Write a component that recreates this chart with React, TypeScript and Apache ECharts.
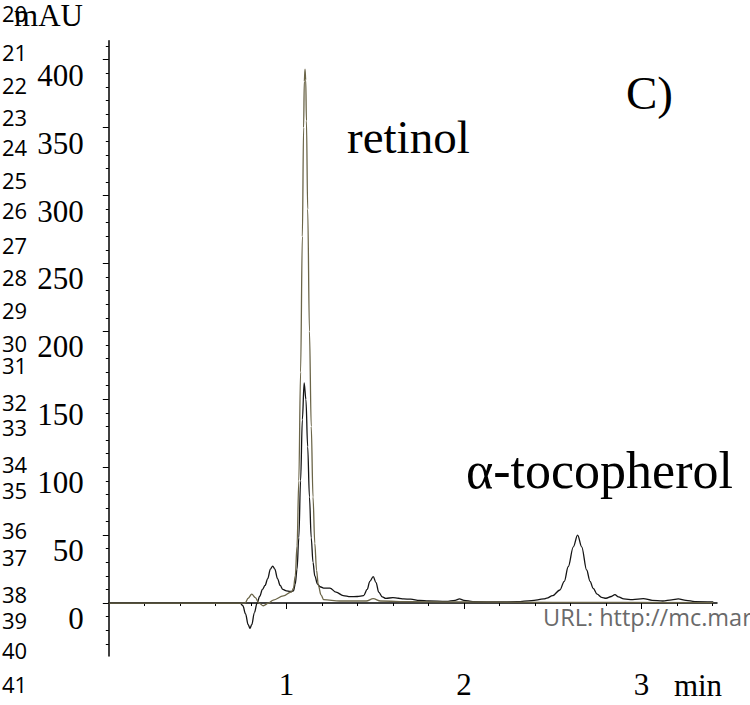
import { useEffect, useRef } from "react";
import * as echarts from "echarts";

// Chromatogram traces: [time (min), absorbance (mAU)]
const sampleTrace: [number, number][] = [
  [0, 0], [0.3, 0], [0.6, 0], [0.74, 0], [0.755, -2], [0.77, -8], [0.785, -16], [0.795, -18.6],
  [0.805, -16], [0.82, -7], [0.835, 0], [0.85, 5], [0.865, 10], [0.88, 13], [0.895, 18],
  [0.91, 25], [0.923, 27.2], [0.935, 25], [0.95, 18], [0.965, 13], [0.98, 10], [1.0, 9],
  [1.02, 8.5], [1.03, 8.5], [1.04, 9], [1.05, 14], [1.06, 25], [1.07, 48], [1.08, 90],
  [1.09, 135], [1.1, 162], [1.11, 150], [1.12, 115], [1.13, 78], [1.14, 48], [1.15, 30],
  [1.16, 20], [1.175, 14], [1.19, 12], [1.21, 11], [1.245, 11], [1.28, 8], [1.32, 5.5],
  [1.36, 4.7], [1.4, 4.8], [1.435, 5.5], [1.455, 10], [1.47, 16], [1.489, 19.4], [1.505, 15],
  [1.52, 8], [1.54, 4.5], [1.56, 3.4], [1.6, 4], [1.63, 3.5], [1.66, 3], [1.7, 2.8],
  [1.75, 2], [1.8, 1.5], [1.9, 1.2], [1.95, 2], [1.975, 3], [2.0, 2], [2.05, 1], [2.2, 0.8],
  [2.3, 1], [2.38, 1.8], [2.45, 3], [2.466, 3.6], [2.5, 5.5], [2.54, 9.6], [2.565, 16],
  [2.587, 26.7], [2.616, 41.4], [2.64, 50], [2.663, 41.4], [2.691, 24.3], [2.71, 16],
  [2.728, 10.8], [2.75, 6.5], [2.775, 4.2], [2.8, 3.5], [2.83, 4.8], [2.85, 6.2], [2.87, 4.5],
  [2.9, 3], [2.95, 2.5], [3.01, 3.2], [3.06, 2], [3.12, 1.5], [3.17, 2.3], [3.207, 3],
  [3.25, 2], [3.3, 1], [3.404, 0.8],
];

const standardTrace: [number, number][] = [
  [0, 0], [0.3, 0], [0.6, 0], [0.767, 0], [0.785, 3.5], [0.805, 6.6], [0.825, 4], [0.845, 0],
  [0.87, -2], [0.9, 0], [0.926, 2.2], [0.983, 5.2], [1.03, 8.3], [1.04, 11], [1.05, 20],
  [1.06, 42], [1.07, 90], [1.08, 170], [1.09, 270], [1.097, 350], [1.101, 384], [1.105, 393],
  [1.109, 385], [1.113, 355], [1.12, 290], [1.13, 200], [1.14, 130], [1.15, 78], [1.16, 44],
  [1.17, 24], [1.18, 13], [1.195, 6], [1.21, 2.5], [1.3, 1.5], [1.45, 1.5], [1.489, 3.2],
  [1.53, 1.5], [1.7, 1], [2.0, 0.8], [2.5, 0.5], [3.404, 0.3],
];

const xMajorTicks = [1, 2, 3];
const xMinorTicks = [0.2, 0.4, 0.6, 0.8, 1.2, 1.4, 1.6, 1.8, 2.2, 2.4, 2.6, 2.8, 3.2, 3.4];
const yMajorTicks = [0, 50, 100, 150, 200, 250, 300, 350, 400];
const yMinorTicks = [
  -30, -20, -10, 10, 20, 30, 40, 60, 70, 80, 90, 110, 120, 130, 140, 160, 170, 180, 190,
  210, 220, 230, 240, 260, 270, 280, 290, 310, 320, 330, 340, 360, 370, 380, 390, 410,
];

const lineNumbers = [
  "20", "21", "22", "23", "24", "25", "26", "27", "28", "29", "30",
  "31", "32", "33", "34", "35", "36", "37", "38", "39", "40", "41",
];
const lineNumberY = [
  13, 52, 85, 117, 147, 180, 210, 245, 277, 310, 343,
  365, 402, 427, 464, 490, 530, 557, 594, 620, 650, 684,
];

const SERIF = "'Liberation Serif', 'Times New Roman', serif";
const SANS = "'Open Sans', 'DejaVu Sans', sans-serif";

export default function App() {
  const ref = useRef<HTMLDivElement>(null);

  useEffect(() => {
    if (!ref.current) return;
    const chart = echarts.init(ref.current, undefined, { renderer: "svg" });

    const texts: any[] = lineNumbers.map((t, i) => ({
      type: "text",
      x: 2,
      y: lineNumberY[i],
      style: {
        text: t,
        font: `22px ${SANS}`,
        fill: "#000",
        textAlign: "left",
        textVerticalAlign: "middle",
      },
    }));

    texts.push(
      {
        type: "text",
        x: 83,
        y: 15,
        style: { text: "mAU", font: `31px ${SERIF}`, fill: "#000", textAlign: "right", textVerticalAlign: "middle" },
      },
      {
        type: "text",
        x: 698,
        y: 685,
        style: { text: "min", font: `31px ${SERIF}`, fill: "#000", textAlign: "center", textVerticalAlign: "middle" },
      },
      {
        type: "text",
        x: 347,
        y: 137,
        style: { text: "retinol", font: `47px ${SERIF}`, fill: "#000", textAlign: "left", textVerticalAlign: "middle" },
      },
      {
        type: "text",
        x: 626,
        y: 93,
        style: { text: "C)", font: `47px ${SERIF}`, fill: "#000", textAlign: "left", textVerticalAlign: "middle" },
      },
      {
        type: "text",
        x: 466,
        y: 470,
        style: { text: "α-tocopherol", font: `52px ${SERIF}`, fill: "#000", textAlign: "left", textVerticalAlign: "middle" },
      },
      {
        type: "text",
        x: 543,
        y: 617,
        style: { text: "URL: http://mc.mar", font: `23.5px ${SANS}`, fill: "#6a6a6a", textAlign: "left", textVerticalAlign: "middle" },
      }
    );

    const option: any = {
      animation: false,
      backgroundColor: "#fff",
      grid: { left: 108.8, right: 33, top: 40.7, bottom: 49, containLabel: false },
      xAxis: [
        {
          type: "value",
          min: 0,
          max: 3.425,
          position: "bottom",
          axisLine: { show: true, lineStyle: { color: "#000", width: 1.5 } },
          axisTick: { show: true, customValues: xMinorTicks, length: 3, lineStyle: { color: "#000", width: 1 } },
          axisLabel: { show: false },
          splitLine: { show: false },
        },
        {
          type: "value",
          min: 0,
          max: 3.425,
          position: "bottom",
          axisLine: { show: false },
          axisTick: { show: true, customValues: xMajorTicks, length: 6, lineStyle: { color: "#000", width: 1 } },
          axisLabel: {
            show: true,
            customValues: xMajorTicks,
            margin: 13,
            color: "#000",
            fontFamily: SERIF,
            fontSize: 31,
            verticalAlign: "top",
          },
          splitLine: { show: false },
        },
      ],
      yAxis: [
        {
          type: "value",
          min: -39,
          max: 414,
          position: "left",
          axisLine: { show: true, lineStyle: { color: "#000", width: 1.5 } },
          axisTick: { show: true, customValues: yMinorTicks, length: 3, lineStyle: { color: "#000", width: 1 } },
          axisLabel: { show: false },
          splitLine: { show: false },
        },
        {
          type: "value",
          min: -39,
          max: 414,
          position: "left",
          axisLine: { show: false },
          axisTick: { show: true, customValues: yMajorTicks, length: 6, lineStyle: { color: "#000", width: 1 } },
          axisLabel: {
            show: true,
            customValues: yMajorTicks,
            margin: 25,
            color: "#000",
            fontFamily: SERIF,
            fontSize: 31,
            verticalAlign: "top",
            align: "right",
          },
          splitLine: { show: false },
        },
      ],
      series: [
        {
          type: "line",
          name: "sample",
          data: sampleTrace,
          xAxisIndex: 0,
          yAxisIndex: 0,
          showSymbol: false,
          smooth: 0.35,
          smoothMonotone: "x",
          lineStyle: { color: "#141414", width: 1.3 },
          z: 2,
        },
        {
          type: "line",
          name: "standard",
          data: standardTrace,
          xAxisIndex: 0,
          yAxisIndex: 0,
          showSymbol: false,
          smooth: 0.35,
          smoothMonotone: "x",
          lineStyle: { color: "#6b6548", width: 1.3 },
          z: 3,
        },
      ],
      graphic: texts,
    };

    chart.setOption(option);
    return () => chart.dispose();
  }, []);

  return (
    <div
      ref={ref}
      style={{ position: "fixed", left: 0, top: 0, width: 750, height: 705, background: "#fff" }}
    />
  );
}
